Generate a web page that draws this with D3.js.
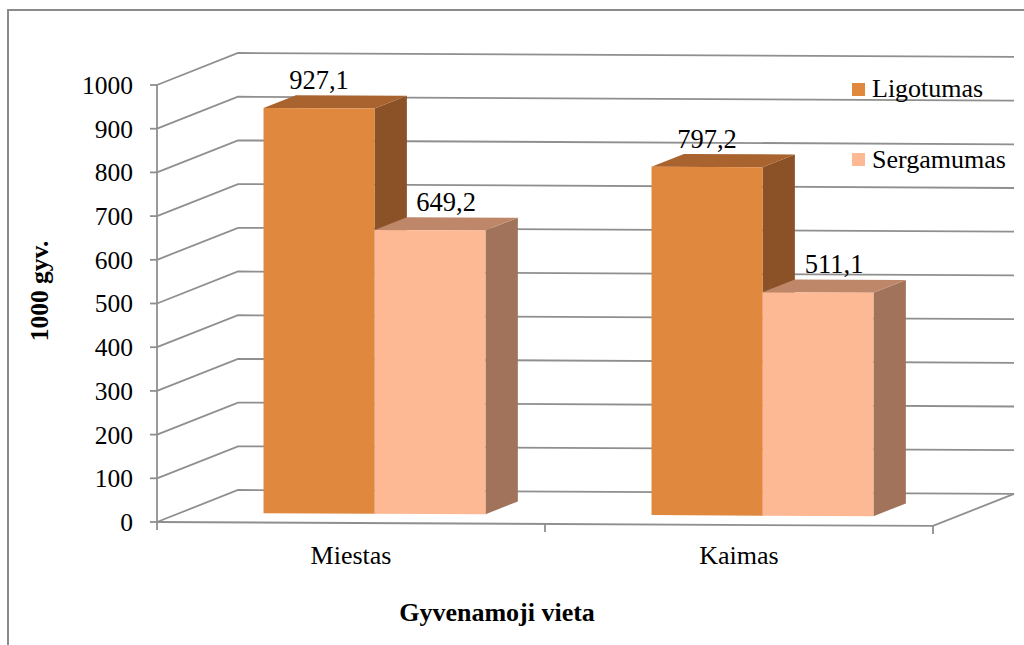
<!DOCTYPE html>
<html>
<head>
<meta charset="utf-8">
<script src="https://cdn.jsdelivr.net/npm/d3@7"></script>
<style>
  body { margin: 0; background: #fff; }
</style>
</head>
<body>
<svg id="viz"></svg>
<script>
// data
var categories = ['Miestas', 'Kaimas'];
var seriesNames = ['Ligotumas', 'Sergamumas'];
var ligotumas = [927.1, 797.2];
var sergamumas = [649.2, 511.1];
var yTicks = [0, 100, 200, 300, 400, 500, 600, 700, 800, 900, 1000];
var labelFmt = function(v) { return d3.format('.1f')(v).replace('.', ','); };

var frontColors = ['#E1883F', '#FDB994'];
var topColors = ['#A9632F', '#BE876A'];
var sideColors = ['#8B5227', '#A0735A'];
var gridColor = '#8f8f8f';

let svg = d3.select('#viz').attr('width', 1024).attr('height', 645)
  .attr('font-family', "'Liberation Serif', 'Times New Roman', serif");

// outer frame
svg.append('rect')
  .attr('x', 8).attr('y', 10)
  .attr('width', 1030).attr('height', 660)
  .attr('fill', 'none').attr('stroke', '#8a8a8a').attr('stroke-width', 2);

// 3d projection: front plane x/y, plus depth z in [0,1]
var depthX = 81, depthY = -32, slope = 0.005;
var x = d3.scaleBand().domain(categories).range([157, 933]);
var y = d3.scaleLinear().domain([0, 1000]).range([522, 85]);
var xs = d3.scaleBand().domain(seriesNames)
  .range([x.bandwidth() * 0.214, x.bandwidth() * 0.786]);

let proj = (px, v, z) => [px + z * depthX, y(v) + z * depthY + (px - 157) * slope];
let pts = arr => arr.map(p => p.join(',')).join(' ');

let grid = svg.append('g');
var x0 = x.range()[0], x1 = x.range()[1];

// left wall + back wall grid lines
yTicks.forEach(function(t) {
  var a = proj(x0, t, 0), b = proj(x0, t, 1), c = proj(x1, t, 1);
  grid.append('polyline')
    .attr('points', pts([a, b, c]))
    .attr('fill', 'none').attr('stroke', gridColor).attr('stroke-width', 1.8);
  // tick
  grid.append('line')
    .attr('x1', a[0] - 7).attr('x2', a[0])
    .attr('y1', a[1]).attr('y2', a[1])
    .attr('stroke', gridColor).attr('stroke-width', 1.8);
  // label
  svg.append('text')
    .attr('x', a[0] - 24).attr('y', a[1]).attr('dy', '0.35em')
    .attr('text-anchor', 'end').attr('font-size', 25.5)
    .text(t);
});

// floor
var f0 = proj(x0, 0, 0), f1 = proj(x1, 0, 0), f2 = proj(x1, 0, 1);
grid.append('polyline')
  .attr('points', pts([f0, f1, f2]))
  .attr('fill', 'none').attr('stroke', gridColor).attr('stroke-width', 1.8);
// vertical axis
grid.append('line')
  .attr('x1', x0).attr('x2', x0)
  .attr('y1', y(0)).attr('y2', y(1000))
  .attr('stroke', gridColor).attr('stroke-width', 1.8);
// category ticks
[x0].concat(categories.map(c => x(c) + x.bandwidth())).forEach(function(px) {
  var p = proj(px, 0, 0);
  grid.append('line')
    .attr('x1', p[0]).attr('x2', p[0])
    .attr('y1', p[1]).attr('y2', p[1] + 8)
    .attr('stroke', gridColor).attr('stroke-width', 1.8);
});

// bars
var z0 = 0.29, z1 = 0.69;
var values = [ligotumas, sergamumas];
let bars = svg.append('g');
categories.forEach(function(cat, ci) {
  seriesNames.forEach(function(s, si) {
    var v = values[si][ci];
    var l = x(cat) + xs(s), r = l + xs.bandwidth();
    var fbl = proj(l, 0, z0), fbr = proj(r, 0, z0), ftl = proj(l, v, z0), ftr = proj(r, v, z0);
    var bbr = proj(r, 0, z1), btl = proj(l, v, z1), btr = proj(r, v, z1);
    bars.append('polygon').attr('points', pts([fbr, ftr, btr, bbr])).attr('fill', sideColors[si]);
    bars.append('polygon').attr('points', pts([ftl, ftr, btr, btl])).attr('fill', topColors[si]);
    bars.append('polygon').attr('points', pts([fbl, fbr, ftr, ftl])).attr('fill', frontColors[si]);
    // first series label sits over the front face, second over the top face
    var lx = (l + r) / 2 + (si === 0 ? z0 : (z0 + z1) / 2) * depthX;
    svg.append('text')
      .attr('x', lx).attr('y', btl[1] - 6)
      .attr('text-anchor', 'middle').attr('font-size', 26.5)
      .text(labelFmt(v));
  });
});

// category labels
categories.forEach(function(cat) {
  svg.append('text')
    .attr('x', x(cat) + x.bandwidth() / 2).attr('y', 564)
    .attr('text-anchor', 'middle').attr('font-size', 26)
    .text(cat);
});

// axis titles
svg.append('text')
  .attr('x', 497).attr('y', 621)
  .attr('text-anchor', 'middle').attr('font-size', 26).attr('font-weight', 'bold')
  .text('Gyvenamoji vieta');
svg.append('text')
  .attr('transform', 'translate(48,291)rotate(-90)')
  .attr('text-anchor', 'middle').attr('font-size', 25.5).attr('font-weight', 'bold')
  .text('1000 gyv.');

// legend
let legend = svg.append('g');
seriesNames.forEach(function(s, i) {
  legend.append('rect')
    .attr('x', 852).attr('y', 83 + i * 70)
    .attr('width', 13).attr('height', 13)
    .attr('fill', frontColors[i]);
  legend.append('text')
    .attr('x', 872).attr('y', 97 + i * 71)
    .attr('font-size', 26)
    .text(s);
});
</script>
</body>
</html>
